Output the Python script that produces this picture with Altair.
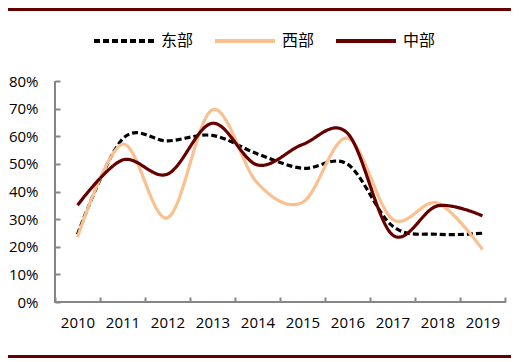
import altair as alt
import pandas as pd

years = ["2010", "2011", "2012", "2013", "2014", "2015", "2016", "2017", "2018", "2019"]
series_names = ["东部", "西部", "中部"]
east = [0.245, 0.590, 0.583, 0.603, 0.536, 0.484, 0.499, 0.275, 0.245, 0.249]
west = [0.235, 0.571, 0.305, 0.696, 0.43, 0.361, 0.593, 0.30, 0.358, 0.190]
central = [0.35, 0.514, 0.463, 0.647, 0.496, 0.570, 0.611, 0.243, 0.348, 0.312]
y_ticks = [0, 0.1, 0.2, 0.3, 0.4, 0.5, 0.6, 0.7, 0.8]

colors = ["#000000", "#FAC090", "#660000"]
dashes = [[6, 3], [1, 0], [1, 0]]

rows = []
for name, vals in zip(series_names, [east, west, central]):
    for yr, v in zip(years, vals):
        rows.append({"year": yr, "value": v, "series": name})
df = pd.DataFrame(rows)

W, H = 450, 221
AXIS_COLOR = "#868686"
BORDER = "#660000"

lines = alt.Chart(df).mark_line(interpolate="cardinal", strokeWidth=3.2).encode(
    x=alt.X("year:O", sort=years,
            scale=alt.Scale(type="band", paddingInner=0, paddingOuter=0),
            bandPosition=0.5,
            axis=alt.Axis(title=None, labelAngle=0, domain=False, tickBand="extent",
                          tickSize=5, tickWidth=2, tickColor=AXIS_COLOR, offset=-5,
                          labelPadding=13, labelFont="Open Sans", labelFontSize=15,
                          labelColor="#000000", grid=False)),
    y=alt.Y("value:Q", scale=alt.Scale(domain=[0, 0.8], nice=False),
            axis=alt.Axis(title=None, values=y_ticks, format=".0%", domain=False,
                          tickSize=5, tickWidth=2, tickColor=AXIS_COLOR, offset=-5,
                          labelPadding=17, labelFont="Open Sans", labelFontSize=15,
                          labelColor="#000000", grid=False)),
    color=alt.Color("series:N", scale=alt.Scale(domain=series_names, range=colors),
                    sort=series_names, title=None),
    strokeDash=alt.StrokeDash("series:N", scale=alt.Scale(domain=series_names, range=dashes),
                              sort=series_names, title=None),
)

one = alt.Data(values=[{}])
y_axis_line = alt.Chart(one).mark_rule(color=AXIS_COLOR, strokeWidth=2).encode(
    x=alt.value(0), y=alt.value(0), y2=alt.value(H + 1))
x_axis_line = alt.Chart(one).mark_rule(color=AXIS_COLOR, strokeWidth=2).encode(
    x=alt.value(0), x2=alt.value(W + 1), y=alt.value(H))
top_border = alt.Chart(one).mark_rule(color=BORDER, strokeWidth=3).encode(
    x=alt.value(-47), x2=alt.value(W + 6), y=alt.value(-71.5))
bottom_border = alt.Chart(one).mark_rule(color=BORDER, strokeWidth=3).encode(
    x=alt.value(-47), x2=alt.value(W + 6), y=alt.value(H + 54.5))

chart = alt.layer(lines, y_axis_line, x_axis_line, top_border, bottom_border).properties(
    width=W, height=H,
    autosize=alt.AutoSizeParams(type="none"),
    padding={"left": 47, "top": 73, "right": 6, "bottom": 56},
).configure_view(stroke=None).configure_legend(
    orient="none", legendX=37, legendY=-72, direction="horizontal",
    symbolType="stroke", symbolSize=3600, symbolStrokeWidth=4,
    labelFont="Noto Sans CJK SC", labelFontSize=16, labelColor="#000000",
    labelOffset=5, columnPadding=13,
)

chart.save("out.html", embed_options={"renderer": "svg", "actions": False})
